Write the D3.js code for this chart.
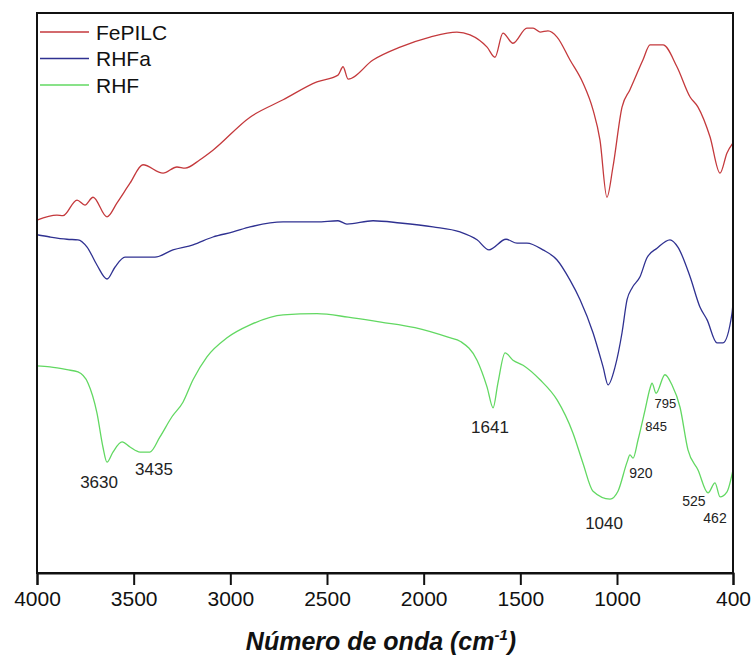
<!DOCTYPE html>
<html>
<head>
<meta charset="utf-8">
<script src="https://cdn.jsdelivr.net/npm/d3@7"></script>
<style>
  body { margin: 0; background: #fff; }
  text { font-family: Arial, "Liberation Sans", sans-serif; }
</style>
</head>
<body>
<div id="chart"></div>
<script>
// FTIR spectra, wavenumber (cm-1) vs transmittance (arbitrary units)
const series = ['FePILC', 'RHFa', 'RHF'];
const colors = ['#c4393c', '#2f3191', '#62d862'];

const fepilc = [
  [4000, 63.0], [3897, 63.9], [3866, 63.8], [3793, 66.6], [3752, 65.7], [3710, 67.1],
  [3638, 63.6], [3586, 66.1], [3519, 69.6], [3452, 72.9], [3348, 71.4], [3276, 72.5],
  [3234, 72.3], [3157, 73.8], [3090, 75.5], [2898, 81.4], [2727, 84.5], [2552, 87.7],
  [2443, 88.9], [2417, 90.4], [2391, 88.2], [2262, 91.6], [2122, 93.9], [1967, 95.7],
  [1828, 96.6], [1760, 96.1], [1672, 93.9], [1631, 92.1], [1590, 96.4], [1538, 94.6],
  [1466, 97.3], [1434, 97.3], [1398, 96.6], [1357, 96.8], [1310, 95.7], [1243, 91.6],
  [1176, 87.5], [1124, 82.7], [1088, 77.3], [1052, 67.1], [1021, 72.5], [974, 83.2],
  [933, 86.3], [866, 91.6], [829, 94.3], [762, 94.3], [690, 90.4], [622, 85.0],
  [581, 83.2], [519, 77.9], [467, 71.4], [431, 75.0], [400, 76.8]
];

const rhfa = [
  [4000, 60.4], [3933, 60.0], [3845, 59.6], [3788, 59.5], [3741, 58.2], [3690, 55.0],
  [3638, 52.5], [3597, 54.6], [3545, 56.4], [3467, 56.4], [3390, 56.4], [3297, 57.7],
  [3193, 58.6], [3090, 60.0], [2986, 60.9], [2898, 61.8], [2727, 62.7], [2552, 62.7],
  [2443, 62.9], [2397, 62.3], [2262, 62.9], [2122, 62.5], [1952, 61.8], [1812, 60.9],
  [1724, 59.5], [1662, 57.7], [1574, 59.6], [1517, 58.9], [1466, 58.9], [1383, 57.7],
  [1310, 55.9], [1243, 52.3], [1191, 48.8], [1124, 42.9], [1072, 36.8], [1046, 33.6],
  [1010, 36.8], [974, 42.9], [948, 48.8], [922, 50.9], [881, 52.9], [845, 56.3],
  [793, 58.0], [726, 59.5], [685, 58.2], [622, 52.9], [571, 47.5], [534, 45.2],
  [483, 41.1], [452, 41.1], [405, 46.4], [400, 48.2]
];

const rhf = [
  [4000, 37.0], [3933, 36.8], [3845, 36.3], [3788, 35.9], [3736, 33.9], [3690, 28.6],
  [3659, 22.5], [3638, 19.8], [3607, 21.6], [3560, 23.4], [3519, 22.5], [3467, 21.6],
  [3416, 21.6], [3364, 24.3], [3302, 27.9], [3245, 30.5], [3193, 34.5], [3121, 38.6],
  [3017, 42.0], [2898, 44.3], [2727, 46.1], [2552, 46.3], [2391, 45.7], [2221, 44.8],
  [2045, 43.8], [1874, 42.1], [1807, 41.3], [1724, 38.0], [1672, 33.2], [1641, 29.5],
  [1616, 33.9], [1579, 39.3], [1538, 38.0], [1486, 37.1], [1398, 34.5], [1310, 30.9],
  [1228, 25.0], [1176, 19.6], [1124, 14.6], [1036, 13.2], [995, 14.6], [948, 19.8],
  [933, 21.1], [917, 20.5], [891, 23.8], [855, 29.1], [829, 33.0], [819, 33.9],
  [798, 32.1], [752, 35.4], [716, 33.6], [674, 29.6], [633, 22.0], [581, 18.4],
  [529, 14.3], [493, 16.1], [467, 13.6], [431, 14.5], [400, 18.4]
];

const xTicks = [4000, 3500, 3000, 2500, 2000, 1500, 1000, 400];

// peak annotations: text, wavenumber, transmittance, font size
const peakLabels = ['3630', '3435', '1641', '1040', '920', '845', '795', '525', '462'];
const peakX = [3679, 3395, 1657, 1067, 876, 798, 750, 602, 493];
const peakY = [15.2, 17.5, 25.0, 7.9, 17.0, 25.4, 29.5, 12.0, 8.9];
const peakSize = [17, 17, 17, 17, 14, 13, 13, 14, 14];

const width = 752, height = 662;
const margin = { top: 13, right: 19, bottom: 89, left: 37 };

const svg = d3.select('#chart').append('svg')
  .attr('width', width)
  .attr('height', height);

const x = d3.scaleLinear()
  .domain([4000, 400])
  .range([margin.left, width - margin.right]);

const y = d3.scaleLinear()
  .domain([0, 100])
  .range([height - margin.bottom, margin.top]);

const line = d3.line()
  .x(d => x(d[0]))
  .y(d => y(d[1]))
  .curve(d3.curveMonotoneX);

// curves
[fepilc, rhfa, rhf].forEach((data, i) => {
  svg.append('path')
    .datum(data)
    .attr('fill', 'none')
    .attr('stroke', colors[i])
    .attr('stroke-width', 1.3)
    .attr('d', line);
});

// frame
svg.append('rect')
  .attr('x', margin.left)
  .attr('y', margin.top)
  .attr('width', width - margin.left - margin.right)
  .attr('height', height - margin.top - margin.bottom)
  .attr('fill', 'none')
  .attr('stroke', '#111')
  .attr('stroke-width', 2);

// x axis
const xAxis = svg.append('g')
  .attr('transform', `translate(0,${height - margin.bottom})`)
  .call(d3.axisBottom(x).tickValues(xTicks).tickSize(12).tickPadding(6).tickFormat(d3.format('d')));

xAxis.select('.domain').attr('stroke', '#111').attr('stroke-width', 2);
xAxis.selectAll('.tick line').attr('stroke', '#111').attr('stroke-width', 2);
xAxis.selectAll('.tick text')
  .attr('font-size', 21)
  .attr('fill', '#111')
  .style('font-family', 'Arial, "Liberation Sans", sans-serif');

// axis title
const title = svg.append('text')
  .attr('x', 381)
  .attr('y', 650)
  .attr('text-anchor', 'middle')
  .attr('font-size', 25)
  .attr('font-weight', 'bold')
  .attr('font-style', 'italic')
  .attr('fill', '#111');
title.append('tspan').text('Número de onda (cm');
title.append('tspan').attr('font-size', 15).attr('dy', -10).text('-1');
title.append('tspan').attr('dy', 10).text(')');

// legend
const legend = svg.append('g');
series.forEach((name, i) => {
  const ly = 32 + i * 26.5;
  legend.append('line')
    .attr('x1', 40).attr('x2', 89)
    .attr('y1', ly).attr('y2', ly)
    .attr('stroke', colors[i])
    .attr('stroke-width', 1.3);
  legend.append('text')
    .attr('x', 96)
    .attr('y', ly)
    .attr('dy', '0.36em')
    .attr('font-size', 21)
    .attr('fill', '#111')
    .text(name);
});

// peak labels
svg.append('g').selectAll('text')
  .data(peakLabels)
  .join('text')
  .attr('x', (d, i) => x(peakX[i]))
  .attr('y', (d, i) => y(peakY[i]))
  .attr('text-anchor', 'middle')
  .attr('font-size', (d, i) => peakSize[i])
  .attr('fill', '#222')
  .text(d => d);
</script>
</body>
</html>
